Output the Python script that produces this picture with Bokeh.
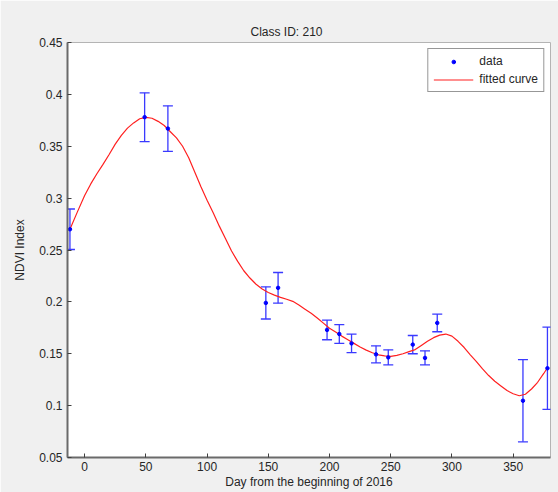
from bokeh.plotting import figure
from bokeh.models import (ColumnDataSource, Whisker, TeeHead, FixedTicker,
                          CustomJSTickFormatter, Legend, LegendItem)
from bokeh.embed import file_html
from bokeh.resources import INLINE

# ---- data ----
days = [-12, 49, 68, 148, 158, 198, 208, 218, 238, 248, 268, 278, 288, 358, 378]
ndvi = [0.270, 0.378, 0.367, 0.199, 0.2135, 0.173, 0.169, 0.160, 0.1494, 0.1465,
        0.1588, 0.146, 0.1797, 0.1047, 0.136]
err = [0.0195, 0.0235, 0.022, 0.0155, 0.0148, 0.0095, 0.009, 0.009, 0.0082, 0.0073,
       0.0088, 0.0068, 0.0085, 0.0396, 0.0397]

curve_days = [-12, -6, 0, 5, 10, 15, 20, 25, 30, 35, 40, 45, 50, 55, 60, 65, 70, 75,
              80, 85, 90, 95, 100, 105, 110, 115, 120, 125, 130, 135, 140, 145, 150,
              155, 160, 165, 170, 175, 180, 185, 190, 195, 200, 205, 210, 215, 220,
              225, 230, 235, 240, 245, 250, 255, 260, 265, 270, 275, 280, 285, 290,
              295, 300, 305, 310, 315, 320, 325, 330, 335, 340, 345, 350, 355, 360,
              365, 370, 375, 378]
curve_vals = [0.270, 0.2865, 0.3026, 0.3137, 0.3235, 0.3325, 0.342, 0.352, 0.3605,
              0.3675, 0.3725, 0.3765, 0.3778, 0.377, 0.374, 0.370, 0.364, 0.358, 0.350,
              0.339, 0.325, 0.311, 0.298, 0.286, 0.273, 0.261, 0.249, 0.239, 0.230,
              0.223, 0.217, 0.2125, 0.209, 0.2065, 0.2044, 0.2025, 0.2005, 0.197, 0.193,
              0.189, 0.1845, 0.1795, 0.1745, 0.171, 0.167, 0.1635, 0.160, 0.1565,
              0.1535, 0.151, 0.149, 0.148, 0.1475, 0.1485, 0.150, 0.152, 0.154, 0.158,
              0.162, 0.1655, 0.168, 0.169, 0.167, 0.162, 0.156, 0.149, 0.1425, 0.1355,
              0.129, 0.1235, 0.119, 0.1145, 0.1115, 0.1095, 0.111, 0.116, 0.1225,
              0.131, 0.1365]

x_ticks = [0, 50, 100, 150, 200, 250, 300, 350]
y_ticks = [0.05, 0.1, 0.15, 0.2, 0.25, 0.3, 0.35, 0.4, 0.45]

title_text = "Class ID: 210"
x_label = "Day from the beginning of 2016"
y_label = "NDVI Index"

FONT = "Liberation Sans"
TXT = "#262626"
BG = "#f0f0f0"

p = figure(frame_width=483, frame_height=415,
           min_border_left=67, min_border_right=8, min_border_top=42, min_border_bottom=35,
           x_range=(-14, 380.5), y_range=(0.05, 0.45),
           output_backend="svg", toolbar_location=None,
           background_fill_color="white", border_fill_color=BG)

p.title.text = title_text
p.title.align = "left"
p.title.offset = 183
p.title.text_font = FONT
p.title.text_font_size = "12px"
p.title.text_font_style = "normal"
p.title.text_color = TXT
p.title.standoff = 8

p.grid.visible = False
p.outline_line_color = "#b4b4b4"
p.outline_line_width = 1

for ax in (p.xaxis[0], p.yaxis[0]):
    ax.axis_line_color = "#6a6a6a"
    ax.axis_line_width = 2
    ax.major_tick_line_color = "#404040"
    ax.major_tick_in = 4
    ax.major_tick_out = 0
    ax.minor_tick_line_color = None
    ax.major_label_text_font = FONT
    ax.major_label_text_font_size = "12px"
    ax.major_label_text_color = TXT
    ax.axis_label_text_font = FONT
    ax.axis_label_text_font_size = "12px"
    ax.axis_label_text_font_style = "normal"
    ax.axis_label_text_color = TXT

p.xaxis.ticker = FixedTicker(ticks=x_ticks)
p.yaxis.ticker = FixedTicker(ticks=y_ticks)
p.yaxis.formatter = CustomJSTickFormatter(code="return String(Number(tick.toFixed(2)));")
p.xaxis.axis_label = x_label
p.yaxis.axis_label = y_label
p.xaxis.major_label_standoff = 4
p.xaxis.axis_label_standoff = 1
p.yaxis.major_label_standoff = 5
p.yaxis.axis_label_standoff = 9

lower = [v - e for v, e in zip(ndvi, err)]
upper = [v + e for v, e in zip(ndvi, err)]
src = ColumnDataSource(dict(day=days, ndvi=ndvi, lower=lower, upper=upper))

EB = "#3a3aff"
wh = Whisker(source=src, base="day", lower="lower", upper="upper", dimension="height",
             line_color=EB, line_width=1.3,
             upper_head=TeeHead(size=10, line_color=EB, line_width=1.3),
             lower_head=TeeHead(size=10, line_color=EB, line_width=1.3))
p.add_layout(wh)

line_r = p.line(curve_days, curve_vals, line_color="#ff2020", line_width=1.2)
dot_r = p.scatter("day", "ndvi", source=src, size=3.5, color="#0000ff")

legend = Legend(items=[LegendItem(label="data", renderers=[dot_r]),
                       LegendItem(label="fitted curve", renderers=[line_r])],
                location="top_right", margin=6, padding=5, spacing=4,
                glyph_width=40, glyph_height=9, label_height=14, label_standoff=6,
                label_text_font=FONT, label_text_font_size="12px", label_text_color=TXT,
                border_line_color="#303030", border_line_width=1,
                background_fill_color="white", background_fill_alpha=1)
p.add_layout(legend)

open("out.html", "w").write(file_html(p, INLINE))
